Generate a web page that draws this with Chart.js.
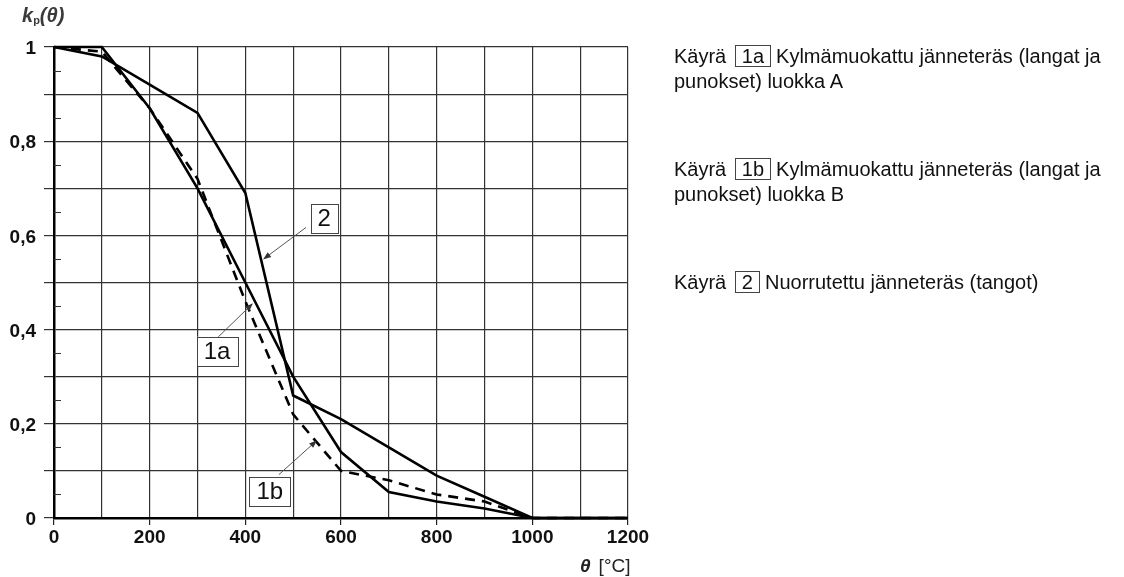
<!DOCTYPE html>
<html lang="fi">
<head>
<meta charset="utf-8">
<title>kp(θ)</title>
<script src="https://cdn.jsdelivr.net/npm/chart.js@4.4.1/dist/chart.umd.min.js"></script>
<style>
  html, body { margin: 0; padding: 0; background: #fff; }
  body {
    width: 1124px; height: 577px; position: relative; overflow: hidden;
    font-family: Arial, "Liberation Sans", sans-serif; color: #111;
  }
  #wrap { position: absolute; left: 0; top: 0; width: 1124px; height: 577px; }
  .ytitle {
    position: absolute; left: 22px; top: 4px;
    font: italic bold 20px Arial, "Liberation Sans", sans-serif; color: #3a3a3a;
  }
  .ytitle sub { font-size: 11px; font-style: normal; vertical-align: -2px; }
  .xtitle { position: absolute; left: 580px; top: 555px; font-size: 19px; color: #222; }
  .xtitle i { font-weight: bold; margin-right: 8px; }
  .legend { position: absolute; left: 674px; font-size: 20px; line-height: 25px; white-space: nowrap; }
  .box {
    display: inline-block; border: 1px solid #444; padding: 0 6px;
    line-height: 20px; margin: 0 5px 0 3px;
  }
</style>
</head>
<body>
<div id="wrap"><canvas id="chartKp" width="1124" height="577"></canvas></div>

<div class="ytitle">k<sub>p</sub>(θ)</div>
<div class="xtitle"><i>θ</i>[°C]</div>

<div class="legend" style="top:44px">Käyrä <span class="box">1a</span>Kylmämuokattu jänneteräs (langat ja<br>punokset) luokka A</div>
<div class="legend" style="top:157px">Käyrä <span class="box">1b</span>Kylmämuokattu jänneteräs (langat ja<br>punokset) luokka B</div>
<div class="legend" style="top:270px">Käyrä <span class="box">2</span>Nuorrutettu jänneteräs (tangot)</div>

<script>
// ==========================
//  Datos del gráfico
// ==========================
const temperaturas = [0, 100, 200, 300, 400, 500, 600, 700, 800, 900, 1000, 1100, 1200];
const kp1a = [1.00, 1.00, 0.87, 0.70, 0.50, 0.30, 0.14, 0.055, 0.035, 0.02, 0.00, 0.00, 0.00];
const kp1b = [1.00, 0.99, 0.87, 0.72, 0.46, 0.22, 0.10, 0.08, 0.05, 0.035, 0.00, 0.00, 0.00];
const kp2  = [1.00, 0.98, 0.92, 0.86, 0.69, 0.26, 0.21, 0.15, 0.09, 0.045, 0.00, 0.00, 0.00];

const etiquetasX = [0, 200, 400, 600, 800, 1000, 1200];
const etiquetasY = [0, 0.2, 0.4, 0.6, 0.8, 1];

// llamadas con flecha (en unidades de datos)
const llamadas = [
  { texto: "2",  caja: [565, 0.636], desde: [527, 0.617], hasta: [437, 0.549] },
  { texto: "1a", caja: [341, 0.354], desde: [342, 0.383], hasta: [416, 0.456] },
  { texto: "1b", caja: [451, 0.056], desde: [470, 0.092], hasta: [550, 0.165] },
];

const puntos = (ys) => temperaturas.map((t, i) => ({ x: t, y: ys[i] }));
const casi = (v, lista) => lista.some((l) => Math.abs(v - l) < 1e-6);

// ==========================
//  Plugin: marcas menores y llamadas
// ==========================
const extras = {
  id: "extras",
  afterDatasetsDraw(chart) {
    const { ctx, scales: { x, y } } = chart;
    ctx.save();

    // marcas menores en 0,05 (hacia dentro)
    ctx.strokeStyle = "#333";
    ctx.lineWidth = 1;
    for (let v = 0.05; v < 1; v += 0.1) {
      const py = Math.round(y.getPixelForValue(v)) + 0.5;
      ctx.beginPath();
      ctx.moveTo(x.left, py);
      ctx.lineTo(x.left + 7, py);
      ctx.stroke();
    }

    // llamadas
    ctx.font = "24px Arial, 'Liberation Sans', sans-serif";
    ctx.textAlign = "center";
    ctx.textBaseline = "middle";
    llamadas.forEach((l) => {
      const x0 = x.getPixelForValue(l.desde[0]);
      const y0 = y.getPixelForValue(l.desde[1]);
      const x1 = x.getPixelForValue(l.hasta[0]);
      const y1 = y.getPixelForValue(l.hasta[1]);
      const ang = Math.atan2(y1 - y0, x1 - x0);

      ctx.strokeStyle = "#555";
      ctx.fillStyle = "#333";
      ctx.lineWidth = 1;
      ctx.beginPath();
      ctx.moveTo(x0, y0);
      ctx.lineTo(x1 - 6 * Math.cos(ang), y1 - 6 * Math.sin(ang));
      ctx.stroke();
      ctx.beginPath();
      ctx.moveTo(x1, y1);
      ctx.lineTo(x1 - 8 * Math.cos(ang) + 3 * Math.sin(ang), y1 - 8 * Math.sin(ang) - 3 * Math.cos(ang));
      ctx.lineTo(x1 - 8 * Math.cos(ang) - 3 * Math.sin(ang), y1 - 8 * Math.sin(ang) + 3 * Math.cos(ang));
      ctx.closePath();
      ctx.fill();

      const cx = x.getPixelForValue(l.caja[0]);
      const cy = y.getPixelForValue(l.caja[1]);
      const w = ctx.measureText(l.texto).width + 14;
      const h = 29;
      ctx.fillStyle = "#fff";
      ctx.fillRect(cx - w / 2, cy - h / 2, w, h);
      ctx.strokeStyle = "#444";
      ctx.strokeRect(Math.round(cx - w / 2) + 0.5, Math.round(cy - h / 2) + 0.5, Math.round(w), h);
      ctx.fillStyle = "#111";
      ctx.fillText(l.texto, cx, cy + 1);
    });
    ctx.restore();
  },
};

// ==========================
//  Gráfico
// ==========================
const estiloLinea = { borderColor: "#000", borderWidth: 2.6, pointRadius: 0, tension: 0, clip: 4 };

new Chart(document.getElementById("chartKp").getContext("2d"), {
  type: "line",
  data: {
    datasets: [
      { label: "1b", data: puntos(kp1b), ...estiloLinea, borderDash: [10, 7] },
      { label: "1a", data: puntos(kp1a), ...estiloLinea },
      { label: "2", data: puntos(kp2), ...estiloLinea },
    ],
  },
  options: {
    responsive: false,
    animation: false,
    layout: { padding: { top: 47, right: 496, left: 0, bottom: 0 } },
    plugins: { legend: { display: false }, tooltip: { enabled: false } },
    scales: {
      x: {
        type: "linear",
        min: 0,
        max: 1200,
        afterFit: (s) => { s.height = 59; },
        afterBuildTicks: (s) => { s.ticks = temperaturas.map((v) => ({ value: v })); },
        ticks: {
          color: "#111",
          padding: 1,
          maxRotation: 0,
          autoSkip: false,
          font: { family: "Arial, 'Liberation Sans', sans-serif", size: 19, weight: "bold" },
          callback: (v) => (casi(v, etiquetasX) ? String(v) : ""),
        },
        grid: {
          color: "#333",
          lineWidth: 1.2,
          tickLength: 7,
          tickColor: (c) => (casi(c.tick.value, etiquetasX) ? "#222" : "rgba(0,0,0,0)"),
        },
        border: { color: "#000", width: 2.5 },
      },
      y: {
        min: 0,
        max: 1,
        afterFit: (s) => { s.width = 54; },
        afterBuildTicks: (s) => {
          s.ticks = [];
          for (let i = 0; i <= 10; i++) s.ticks.push({ value: i / 10 });
        },
        ticks: {
          color: "#111",
          padding: 8,
          labelOffset: 2,
          autoSkip: false,
          font: { family: "Arial, 'Liberation Sans', sans-serif", size: 19, weight: "bold" },
          callback: (v) => (casi(v, etiquetasY) ? String(Math.round(v * 10) / 10).replace(".", ",") : ""),
        },
        grid: { color: "#333", lineWidth: 1.2, tickLength: 10, tickColor: "#333" },
        border: { color: "#000", width: 2.5 },
      },
    },
  },
  plugins: [extras],
});
</script>
</body>
</html>
